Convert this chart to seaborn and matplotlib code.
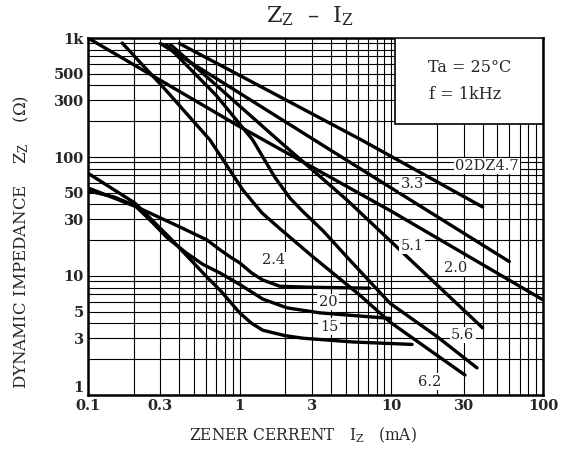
import matplotlib
matplotlib.use('Agg')
import matplotlib.pyplot as plt
import matplotlib.ticker as mticker
from matplotlib.patches import Rectangle
import pandas as pd
import seaborn as sns

# curves: (current mA, impedance ohm)
iz_20 = [0.1, 1, 10, 100]
zz_20 = [1000, 180, 35, 6.3]
iz_33 = [0.3, 3.94, 60]
zz_33 = [900, 115, 13.2]
iz_47 = [0.4, 6.36, 40]
zz_47 = [900, 139, 38]
iz_51 = [0.35, 1.0, 1.79, 5.1, 40]
zz_51 = [880, 268, 139, 43.5, 3.66]
iz_56 = [0.33, 0.7, 1.22, 1.7, 2.15, 2.6, 3.54, 5.5, 9.8, 20, 36.7]
zz_56 = [873, 330, 139, 68, 45, 35, 24, 13, 5.9, 3.1, 1.69]
iz_62 = [0.168, 0.312, 0.637, 1.05, 1.4, 1.84, 3.04, 6.2, 9.8, 30.6]
zz_62 = [908, 388, 139, 52.8, 34, 25, 14.5, 6.9, 4.1, 1.47]
iz_24 = [0.1, 0.21, 0.404, 0.608, 0.742, 0.87, 1.0, 1.2, 1.42, 1.84, 2.91, 7.2]
zz_24 = [55, 38, 25.8, 20.1, 16.6, 14.4, 12.9, 10.6, 9.25, 8.2, 8.05, 7.9]
iz_200 = [0.1, 0.15, 0.204, 0.26, 0.332, 0.449, 0.573, 0.742, 1.0, 1.42, 2.05, 3.38, 9.8]
zz_200 = [52, 46, 39, 29, 21, 15.5, 12.5, 10.6, 8.5, 6.4, 5.4, 4.9, 4.4]
iz_150 = [0.1, 0.204, 0.347, 0.608, 0.742, 1.0, 1.2, 1.42, 2.0, 2.61, 5.58, 13.7]
zz_150 = [73, 41, 20.9, 9.8, 7.6, 4.9, 4.0, 3.5, 3.15, 3.0, 2.79, 2.66]

curves = {
    '2.0': (iz_20, zz_20), '3.3': (iz_33, zz_33), '4.7': (iz_47, zz_47),
    '5.1': (iz_51, zz_51), '5.6': (iz_56, zz_56), '6.2': (iz_62, zz_62),
    '2.4': (iz_24, zz_24), '20': (iz_200, zz_200), '15': (iz_150, zz_150),
}

# curve labels and where they sit
label_text = ['02DZ4.7', '3.3', '5.1', '2.0', '2.4', '20', '15', '5.6', '6.2']
label_x = [42.7, 13.7, 13.7, 26.7, 1.68, 3.82, 3.88, 29.6, 18.0]
label_y = [84, 59.3, 17.9, 11.7, 13.6, 6.05, 3.73, 3.19, 1.29]

xticks = [0.1, 0.3, 1, 3, 10, 30, 100]
xticklabels = ['0.1', '0.3', '1', '3', '10', '30', '100']
yticks = [1, 3, 5, 10, 30, 50, 100, 300, 500, 1000]
yticklabels = ['1', '3', '5', '10', '30', '50', '100', '300', '500', '1k']

sns.set_style('white')
plt.rcParams['font.family'] = ['DejaVu Serif']
plt.rcParams['mathtext.fontset'] = 'dejavuserif'

fig = plt.figure(figsize=(5.69, 4.63), dpi=100)
ax = fig.add_axes([0.1547, 0.1469, 0.7996, 0.7710])

for name, (x, y) in curves.items():
    df = pd.DataFrame({'Iz': x, 'Zz': y})
    sns.lineplot(data=df, x='Iz', y='Zz', ax=ax, color='black', linewidth=2.4,
                 sort=False, estimator=None, zorder=4)

ax.set_xscale('log')
ax.set_yscale('log')
ax.set_xlim(0.1, 100)
ax.set_ylim(1, 1000)

ax.xaxis.set_major_locator(mticker.FixedLocator(xticks))
ax.xaxis.set_major_formatter(mticker.FixedFormatter(xticklabels))
ax.yaxis.set_major_locator(mticker.FixedLocator(yticks))
ax.yaxis.set_major_formatter(mticker.FixedFormatter(yticklabels))
ax.xaxis.set_minor_locator(mticker.LogLocator(base=10, subs=range(2, 10)))
ax.yaxis.set_minor_locator(mticker.LogLocator(base=10, subs=range(2, 10)))
ax.xaxis.set_minor_formatter(mticker.NullFormatter())
ax.yaxis.set_minor_formatter(mticker.NullFormatter())
ax.tick_params(which='both', length=0, labelsize=10.5, pad=3)
for t in ax.get_xticklabels() + ax.get_yticklabels():
    t.set_fontweight('bold')
# the "1" of the y axis sits above the corner, clear of "0.1"
ax.yaxis.get_major_ticks()[0].label1.set_verticalalignment('bottom')
ax.grid(which='both', color='black', linewidth=0.8)
ax.set_axisbelow(True)
for s in ax.spines.values():
    s.set_color('black')
    s.set_linewidth(1.8)

# condition box in upper right
ax.add_patch(Rectangle((10.5, 190), 100 - 10.5, 1000 - 190, facecolor='white',
                       edgecolor='black', linewidth=1.2, zorder=3))
ax.text(33, 570, 'Ta = 25°C', ha='center', va='center', fontsize=11.5, zorder=5)
ax.text(30.6, 332, 'f = 1kHz', ha='center', va='center', fontsize=11.5, zorder=5)

for t, x, y in zip(label_text, label_x, label_y):
    ax.text(x, y, t, ha='center', va='center', fontsize=10.5, zorder=5,
            bbox=dict(facecolor='white', edgecolor='none', pad=1))

ax.set_xlabel('')
ax.set_ylabel('')
fig.text(0.545, 0.965, r'$\mathrm{Z_Z}$  –  $\mathrm{I_Z}$', ha='center', va='center', fontsize=16)
fig.text(0.532, 0.06, r'ZENER CERRENT   $\mathrm{I_Z}$   (mA)', ha='center', va='center', fontsize=11.2)
fig.text(0.037, 0.478, r'DYNAMIC IMPEDANCE    $\mathrm{Z_Z}$    ($\Omega$)', ha='center', va='center',
         rotation=90, fontsize=12)

fig.savefig('out.png', dpi=100)
